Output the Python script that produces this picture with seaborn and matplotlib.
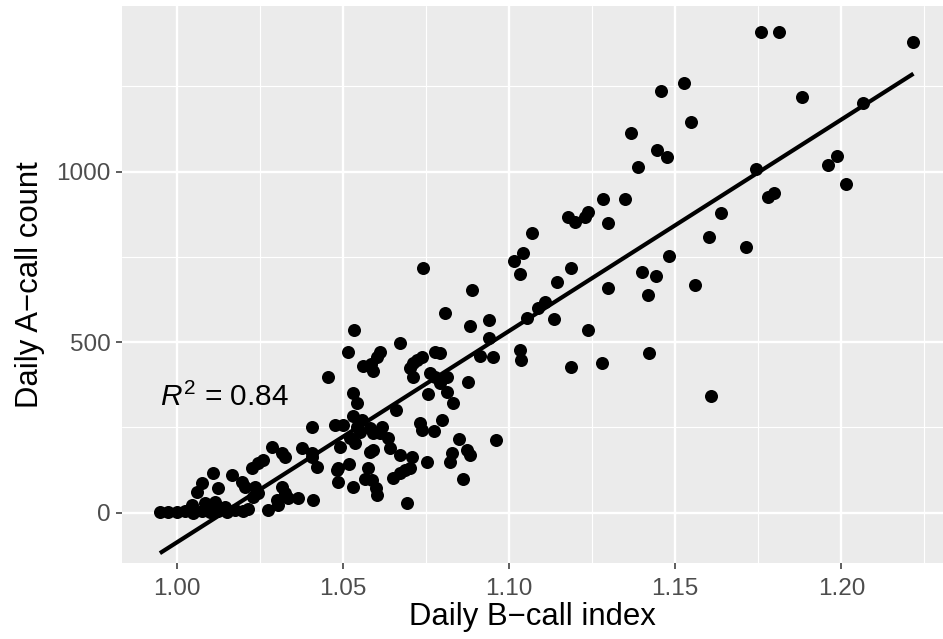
import numpy as np
import pandas as pd
import matplotlib
matplotlib.use("Agg")
import matplotlib.pyplot as plt
from matplotlib.ticker import FixedLocator
import seaborn as sns

# ---- data ----
b_index = [
    # dense low cluster
    0.9950, 0.9975, 1.0000, 1.0026, 1.0051, 1.0076, 1.0101, 1.0126, 1.0151, 1.0176, 1.0201, 1.0215,
    1.0086, 1.0116, 1.0146, 1.0046, 1.0275,
    1.0457, 1.0407, 1.0477, 1.0492, 1.0286, 1.0316, 1.0326, 1.0377, 1.0407, 1.0246, 1.0226, 1.0261,
    1.0422, 1.0111, 1.0166, 1.0076, 1.0061, 1.0126, 1.0196, 1.0206, 1.0236, 1.0246, 1.0231, 1.0316,
    1.0326, 1.0336, 1.0366, 1.0412, 1.0301, 1.0306, 1.0487, 1.0487,
    # middle
    1.0743, 1.0888, 1.0808, 1.0883, 1.0941, 1.0941, 1.0913, 1.0953, 1.0878,
    1.0535, 1.0515, 1.0612, 1.0602, 1.0585, 1.0562, 1.0590, 1.0672,
    1.0532, 1.0544, 1.0659,
    1.0702, 1.0712, 1.0723, 1.0738, 1.0712,
    1.0778, 1.0793,
    1.0763, 1.0778, 1.0793, 1.0813, 1.0813, 1.0758, 1.0831,
    1.0532, 1.0557, 1.0502,
    1.0542, 1.0552, 1.0582, 1.0592, 1.0617, 1.0612,
    1.0522, 1.0537,
    1.0637, 1.0642, 1.0582, 1.0591, 1.0672, 1.0708,
    1.0733, 1.0738, 1.0776, 1.0798,
    1.0851, 1.0873, 1.0883, 1.0828, 1.0823, 1.0753,
    1.0961, 1.0861,
    1.0407, 1.0482, 1.0520, 1.0532,
    1.0577, 1.0567, 1.0587, 1.0600, 1.0602,
    1.0652, 1.0672, 1.0687, 1.0702, 1.0694,
    # upper middle
    1.1445, 1.1477, 1.1389, 1.1284, 1.1349, 1.1177, 1.1199, 1.1229, 1.1239, 1.1299,
    1.1069, 1.1016, 1.1043, 1.1033, 1.1187, 1.1144, 1.1299, 1.1400, 1.1442, 1.1419,
    1.1482, 1.1109, 1.1089, 1.1054, 1.1136, 1.1237, 1.1033, 1.1035, 1.1187, 1.1281,
    1.1422,
    # right
    1.1758, 1.1812, 1.2217, 1.1527, 1.1548, 1.1883, 1.2066, 1.1743, 1.1959, 1.1988,
    1.2014, 1.1780, 1.1798, 1.1638, 1.1602, 1.1713, 1.1560, 1.1608, 1.1457, 1.1367,
]
a_count = [
    1, 3, 2, 5, 0, 4, 2, 6, 3, 8, 5, 10,
    28, 32, 18, 23, 8,
    399, 252, 257, 194, 194, 175, 164, 189, 175, 145, 130, 155,
    135, 115, 110, 86, 62, 72, 91, 76, 76, 57, 47, 76,
    57, 42, 42, 37, 37, 23, 130, 91,
    717, 653, 586, 548, 565, 511, 460, 457, 382,
    536, 470, 470, 456, 436, 431, 417, 497,
    352, 323, 301,
    423, 438, 448, 456, 397,
    470, 467,
    409, 399, 379, 399, 355, 348, 321,
    284, 272, 257,
    252, 237, 247, 233, 252, 233,
    218, 205,
    218, 189, 178, 184, 169, 162,
    262, 243, 240, 272,
    216, 184, 169, 174, 150, 150,
    213, 98,
    164, 124, 142, 76,
    130, 99, 96, 72, 52,
    103, 116, 125, 130, 28,
    1063, 1042, 1013, 920, 920, 868, 853, 868, 883, 850,
    819, 739, 761, 700, 717, 676, 660, 707, 694, 638,
    753, 619, 599, 570, 568, 536, 477, 448, 426, 438,
    469,
    1410, 1410, 1381, 1259, 1145, 1220, 1202, 1008, 1020, 1046,
    964, 927, 937, 878, 808, 780, 668, 342, 1237, 1113,
]
x_ticks = [1.00, 1.05, 1.10, 1.15, 1.20]
x_tick_labels = ["1.00", "1.05", "1.10", "1.15", "1.20"]
y_ticks = [0, 500, 1000]
y_tick_labels = ["0", "500", "1000"]
r2_label = r"$R^2$ = 0.84"
x_title = "Daily B\u2212call index"
y_title = "Daily A\u2212call count"

df = pd.DataFrame({"b": b_index, "a": a_count})

sns.set_theme(style="darkgrid")
plt.rcParams["font.family"] = ["Liberation Sans", "DejaVu Sans"]
plt.rcParams["mathtext.fontset"] = "custom"
plt.rcParams["mathtext.rm"] = "Liberation Sans"
plt.rcParams["mathtext.it"] = "Liberation Sans:italic"

fig = plt.figure(figsize=(9.43, 6.39), dpi=100)
ax = fig.add_axes([122 / 943, 76 / 639, (943 - 122) / 943, (563 - 6) / 639])
ax.set_facecolor("#EBEBEB")
for s in ax.spines.values():
    s.set_visible(False)

sns.scatterplot(data=df, x="b", y="a", ax=ax, s=88, color="black",
                linewidth=0, zorder=3)
sns.regplot(data=df, x="b", y="a", ax=ax, scatter=False, ci=None,
            truncate=True, line_kws={"color": "black", "linewidth": 3.0,
                                     "zorder": 4, "solid_capstyle": "butt"})

ax.set_xlim(0.98360, 1.23059)
ax.set_ylim(-147.5, 1486)

ax.xaxis.set_major_locator(FixedLocator(x_ticks))
ax.set_xticklabels(x_tick_labels)
ax.xaxis.set_minor_locator(FixedLocator([0.975, 1.025, 1.075, 1.125, 1.175, 1.225]))
ax.yaxis.set_major_locator(FixedLocator(y_ticks))
ax.set_yticklabels(y_tick_labels)
ax.yaxis.set_minor_locator(FixedLocator([-250, 250, 750, 1250]))

ax.grid(which="major", color="white", linewidth=1.7)
ax.grid(which="minor", color="white", linewidth=0.8)
ax.set_axisbelow(True)

ax.tick_params(axis="both", which="major", length=4.5, width=1.1, color="#333333",
               labelsize=17.5, labelcolor="#4D4D4D", bottom=True, left=True)
ax.tick_params(axis="x", which="major", pad=6)
ax.tick_params(axis="y", which="major", pad=3.5)
ax.tick_params(axis="both", which="minor", length=0)

ax.set_xlabel(x_title, fontsize=22.4, color="black", labelpad=2)
ax.set_ylabel(y_title, fontsize=22.4, color="black", labelpad=8)

ax.text(0.995, 339, r2_label, fontsize=21.5, color="black", va="center", ha="left")

fig.savefig("out.png", dpi=100)
